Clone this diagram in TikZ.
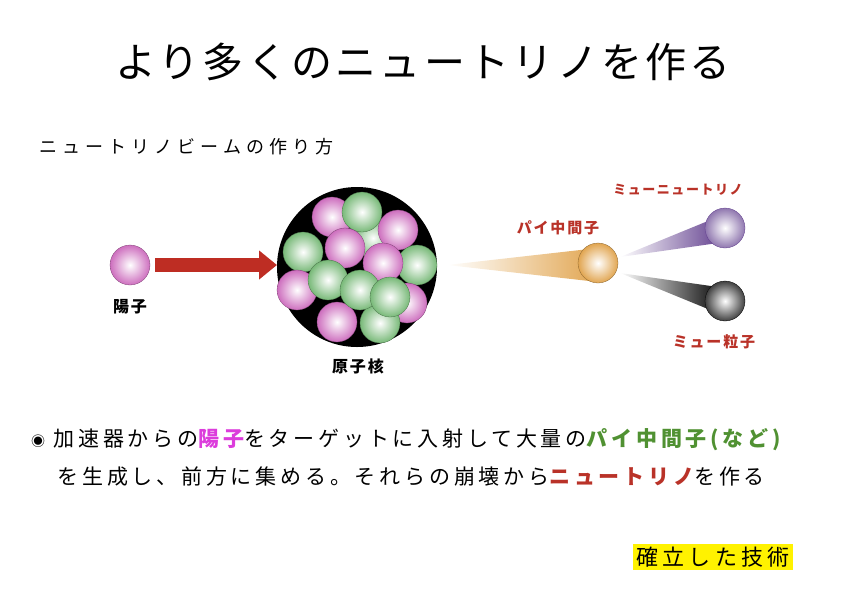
\documentclass[tikz,border=0pt]{standalone}
\usepackage{fontspec}
\setmainfont{Noto Sans CJK JP}
\newfontfamily\spacedA[LetterSpace=8]{Noto Sans CJK JP}
\newfontfamily\spacedB[LetterSpace=18]{Noto Sans CJK JP}
\newfontfamily\spacedS[LetterSpace=28]{Noto Sans CJK JP}
\newfontfamily\spacedC[LetterSpace=12]{Noto Sans CJK JP}
\newfontfamily\spacedD[LetterSpace=20]{Noto Sans CJK JP}
\usetikzlibrary{arrows.meta}
\definecolor{pinkb}{RGB}{205,110,190}
\definecolor{greenb}{RGB}{120,185,120}
\definecolor{redtxt}{RGB}{185,50,40}
\definecolor{arrowred}{RGB}{190,45,35}
\definecolor{piontan}{RGB}{225,165,80}
\definecolor{mupurple}{RGB}{95,60,140}
\definecolor{magtxt}{RGB}{220,60,220}
\definecolor{grntxt}{RGB}{80,145,50}
\tikzset{
  pinkball/.style={inner color=white, outer color=pinkb, draw=pinkb!60!black, line width=0.3pt},
  greenball/.style={inner color=white, outer color=greenb, draw=greenb!60!black, line width=0.3pt},
  lbl/.style={font=\spacedC\bfseries\fontsize{15}{18}\selectfont, text=redtxt},
  body/.style={font=\spacedB\fontsize{21}{24}\selectfont, anchor=west}
}
\begin{document}
\begin{tikzpicture}[x=1pt,y=-1pt]
  \useasboundingbox (0,0) rectangle (842,595);
  % TITLES
  \node (title) at (423,62) {\spacedA\fontsize{41}{45}\selectfont より多くのニュートリノを作る};
  \node[anchor=west] (sub) at (36,147) {\spacedS\fontsize{18}{21}\selectfont ニュートリノビームの作り方};

  % PROTON AND ARROW
  \shade[pinkball] (130,265) circle (20);
  \node (proton) at (130,265) [minimum size=40pt] {};
  \node[font=\spacedC\bfseries\fontsize{16}{18}\selectfont] (plbl) at (130,307) {陽子};
  \draw[arrowred, line width=14pt, -{Triangle[length=18pt,width=28pt]}] (155,265) -- (277,265);

  % NUCLEUS
  \fill[black] (357,267) circle (80);
  \node (nucleus) at (357,267) [minimum size=160pt] {};
  \shade[greenball] (373,238) circle (20);
  \shade[pinkball] (332,217) circle (20);
  \shade[pinkball] (398,230) circle (20);
  \shade[greenball] (362,212) circle (20);
  \shade[greenball] (303,252) circle (20);
  \shade[pinkball] (345,248) circle (20);
  \shade[greenball] (417,265) circle (20);
  \shade[pinkball] (383,263) circle (20);
  \shade[pinkball] (297,290) circle (20);
  \shade[pinkball] (407,303) circle (20);
  \shade[pinkball] (337,322) circle (20);
  \shade[greenball] (380,323) circle (20);
  \shade[greenball] (328,280) circle (20);
  \shade[greenball] (360,290) circle (20);
  \shade[greenball] (390,297) circle (20);
  \node[font=\spacedC\bfseries\fontsize{16}{18}\selectfont] (nlbl) at (358,366) {原子核};

  % PION BEAM AND DECAY
  \shade[left color=white, right color=piontan] (447,265) -- (598,248) -- (598,282) -- cycle;
  \shade[inner color=white, outer color=piontan, draw=piontan!60!black, line width=0.3pt] (598,263) circle (20);
  \node (pion) at (598,263) [minimum size=40pt] {};
  \node[lbl] (pilbl) at (558,228) {パイ中間子};
  \shade[left color=white, right color=mupurple] (620,257) -- (725,214) -- (725,242) -- cycle;
  \shade[inner color=white, outer color=mupurple!70, draw=mupurple, line width=0.3pt] (725,228) circle (20);
  \node (numu) at (725,228) [minimum size=40pt] {};
  \node[lbl, font=\spacedC\bfseries\fontsize{13}{15}\selectfont] (nulbl) at (678,190) {ミューニュートリノ};
  \shade[left color=white, right color=black] (620,273) -- (725,288) -- (725,316) -- cycle;
  \shade[inner color=white, outer color=black!75, draw=black, line width=0.3pt] (725,301) circle (20);
  \node (muon) at (725,301) [minimum size=40pt] {};
  \node[lbl] (mulbl) at (714,342) {ミュー粒子};

  % TEXT
  \node[font=\fontsize{14}{16}\selectfont] (bullet) at (38,441) {◉};
  \node[body] (line1) at (50,440) {加速器からの\textcolor{magtxt}{\bfseries 陽子}をターゲットに入射して大量の\textcolor{grntxt}{\bfseries パイ中間子(など)}};
  \node[body] (line2) at (54,477) {を生成し、前方に集める。それらの崩壊から\textcolor{redtxt}{\bfseries ニュートリノ}を作る};
  \node[fill=yellow, inner sep=3pt, font=\spacedD\fontsize{22}{25}\selectfont] (tech) at (713,557) {確立した技術};
\end{tikzpicture}
\end{document}
